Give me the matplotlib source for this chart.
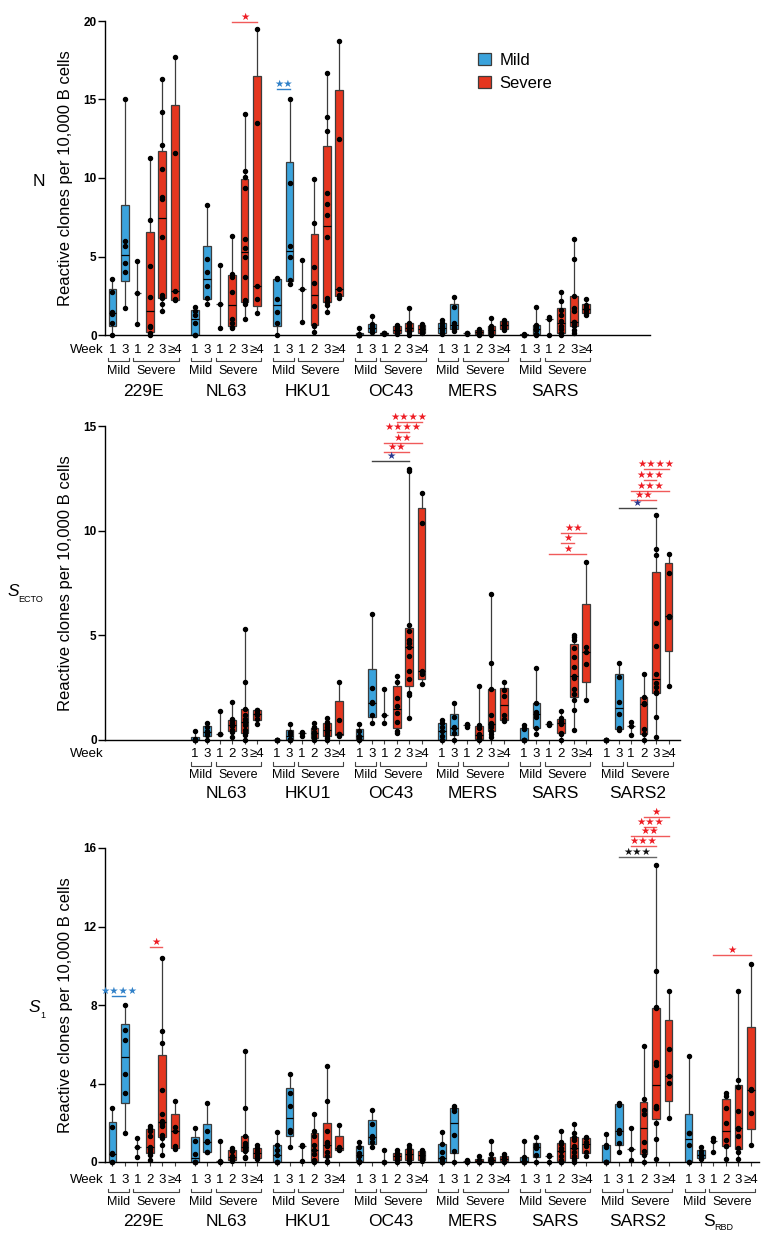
import numpy as np
import matplotlib
matplotlib.use("Agg")
import matplotlib.pyplot as plt
from matplotlib.patches import Patch

plt.rcParams["font.family"] = ["Liberation Sans", "DejaVu Sans"]

BLUE = "#3ba3dc"
RED = "#e5361f"
EDGE = "#3c3c3c"
STAR_COLORS = {"sev": "#ee1c24", "mild": "#2f80c8", "cross": "#2b3990", "black": "#111111"}
LINE_COLORS = {"sev": "#f05a5a", "mild": "#2f80c8", "cross": "#444444", "black": "#666666"}

WEEKS = ["1", "3", "1", "2", "3", "≥4"]
GROUP_COLORS = [BLUE, BLUE, RED, RED, RED, RED]
STRIDE = 6.61
W, H = 767, 1238

# ---- N panel (reactive clones per 10,000 B cells) ----
n_names = ["229E", "NL63", "HKU1", "OC43", "MERS", "SARS"]
n_229e = [[0, 0.75, 1.35, 1.45, 2.75, 3.55], [1.75, 4.03, 4.56, 5.67, 6.0, 15.0], [0.7, 2.65, 4.7],
          [0, 0.1, 0.5, 0.6, 2.45, 4.4, 7.3, 11.3],
          [1.5, 1.95, 2.35, 2.45, 2.55, 6.25, 8.65, 8.8, 10.6, 12.1, 14.2, 16.3], [2.2, 2.3, 2.8, 11.6, 17.7]]
n_nl63 = [[0, 0, 0.75, 1.25, 1.55, 1.8], [1.96, 2.38, 3.13, 4.02, 4.83, 8.3], [0.43, 1.96, 4.47],
          [0.43, 0.53, 0.74, 1.0, 2.77, 3.72, 3.89, 6.28],
          [1.02, 2.0, 2.08, 2.23, 3.67, 4.99, 5.54, 6.09, 9.38, 10.08, 10.45, 14.1], [1.4, 2.3, 3.15, 13.5, 19.5]]
n_hku1 = [[0, 0.74, 1.49, 2.3, 3.55, 3.6], [3.23, 3.5, 4.99, 5.67, 9.68, 15.0], [0.85, 2.91, 4.79],
          [0.17, 0.6, 0.65, 1.85, 3.3, 4.36, 7.13, 9.94],
          [1.47, 1.91, 2.1, 2.17, 2.36, 6.24, 7.64, 8.33, 9.04, 13.0, 13.9, 16.7], [2.36, 2.55, 2.95, 12.5, 18.73]]
n_oc43 = [[0, 0, 0, 0, 0.05, 0.42], [0.18, 0.22, 0.38, 0.45, 0.6, 0.68, 1.23], [0.05, 0.1, 0.1, 0.15],
          [0.05, 0.1, 0.25, 0.35, 0.45, 0.55, 0.65], [0, 0.22, 0.3, 0.42, 0.48, 0.7, 0.78, 1.74],
          [0.1, 0.2, 0.4, 0.6, 0.7]]
n_mers = [[0.05, 0.15, 0.3, 0.45, 0.55, 0.75, 0.95], [0.25, 0.42, 0.5, 0.75, 1.8, 2.4], [0.05, 0.1, 0.15],
          [0, 0.1, 0.15, 0.25, 0.3, 0.4], [0, 0.05, 0.2, 0.3, 0.45, 0.55, 1.06], [0.3, 0.45, 0.55, 0.7, 0.85, 0.95]]
n_sars = [[0, 0, 0, 0.05], [0, 0.05, 0.3, 0.4, 0.55, 0.65, 1.8], [0, 1.05, 1.17],
          [0, 0.1, 0.15, 0.4, 0.6, 0.9, 1.3, 1.6, 2.19, 2.76],
          [0.15, 0.3, 0.55, 0.7, 0.8, 0.85, 1.5, 1.75, 2.5, 4.84, 6.09], [1.3, 1.4, 1.6, 1.75, 1.9, 2.27]]
n_sig = [(1, 3, 5, 19.94, "*", "sev"), (2, 0, 1, 15.67, "**", "mild")]

# ---- S ecto panel ----
e_names = ["NL63", "HKU1", "OC43", "MERS", "SARS", "SARS2"]
e_nl63 = [[0, 0, 0, 0, 0.05, 0.45], [0, 0.25, 0.35, 0.45, 0.6, 0.8], [0.27, 0.3, 1.4],
          [0.16, 0.4, 0.5, 0.65, 0.7, 0.8, 0.95, 1.0, 1.83],
          [0, 0.25, 0.32, 0.5, 0.7, 0.85, 1.0, 1.2, 1.48, 2.79, 5.3], [0.76, 1.0, 1.2, 1.3, 1.43, 1.45]]
e_hku1 = [[0, 0, 0, 0, 0.02], [0, 0, 0.05, 0.3, 0.38, 0.76], [0.2, 0.35, 0.4],
          [0, 0.05, 0.15, 0.3, 0.4, 0.55, 0.6, 0.8], [0, 0.1, 0.25, 0.4, 0.5, 0.6, 0.75, 0.85, 1.03],
          [0.19, 0.27, 0.3, 0.96, 2.79]]
e_oc43 = [[0, 0.05, 0.15, 0.2, 0.45, 0.76], [0.8, 1.2, 1.78, 1.8, 2.5, 6.0], [0.8, 1.19, 2.44],
          [0.35, 0.45, 0.88, 1.3, 1.62, 2.02, 2.79, 3.06],
          [1.04, 2.15, 2.23, 2.9, 3.31, 4.0, 4.46, 4.65, 4.78, 5.2, 5.49, 12.85, 12.95],
          [2.67, 3.15, 3.3, 10.35, 11.8]]
e_mers = [[0, 0, 0.2, 0.45, 0.6, 0.8, 0.96], [0, 0.35, 0.55, 0.6, 1.1, 1.75], [0.6, 0.7, 0.75],
          [0, 0.05, 0.1, 0.2, 0.3, 0.55, 0.7, 2.58],
          [0.15, 0.3, 0.45, 0.6, 0.7, 0.75, 0.8, 1.2, 2.45, 3.66, 6.96], [0.9, 1.0, 1.2, 2.1, 2.4, 2.79]]
e_sars = [[0, 0, 0, 0, 0.52, 0.55, 0.72], [0.27, 0.55, 1.1, 1.25, 1.35, 1.75, 3.42], [0.72, 0.78, 0.8],
          [0, 0.3, 0.35, 0.75, 0.85, 0.9, 1.05, 1.4],
          [0.48, 1.43, 1.91, 2.2, 2.42, 2.95, 3.05, 3.5, 3.98, 4.38, 4.78, 4.9, 5.02],
          [1.91, 3.63, 4.19, 4.46, 8.52]]
e_sars2 = [[0, 0, 0, 0, 0.02], [0.5, 0.55, 1.24, 1.83, 2.99, 3.66], [0.25, 0.67, 0.88],
           [0, 0.29, 0.51, 1.7, 1.75, 2.07, 3.14],
           [0.16, 1.11, 2.23, 2.31, 2.55, 2.71, 3.14, 4.51, 5.58, 8.84, 9.13, 10.77],
           [2.6, 5.86, 5.94, 8.0, 8.88]]
e_sig = [(3, 1, 4, 13.34, "*", "cross"), (3, 2, 4, 13.74, "**", "sev"), (3, 2, 5, 14.2, "**", "sev"),
         (3, 3, 4, 14.7, "****", "sev"), (3, 3, 5, 15.2, "****", "sev"),
         (5, 2, 5, 8.9, "*", "sev"), (5, 3, 4, 9.4, "*", "sev"), (5, 3, 5, 9.9, "**", "sev"),
         (6, 1, 4, 11.07, "*", "cross"), (6, 2, 4, 11.47, "**", "sev"), (6, 2, 5, 11.91, "***", "sev"),
         (6, 3, 4, 12.42, "***", "sev"), (6, 3, 5, 12.93, "****", "sev")]

# ---- S1 panel ----
s_names = ["229E", "NL63", "HKU1", "OC43", "MERS", "SARS", "SARS2", "RBD"]
s_229e = [[0, 0, 0.4, 0.46, 1.77, 2.75], [1.48, 3.51, 4.5, 6.23, 6.71, 8.01], [0.24, 0.76, 1.22],
          [0.08, 0.37, 0.5, 0.65, 0.75, 1.31, 1.6, 1.75, 1.85],
          [0.34, 0.88, 1.2, 1.4, 1.85, 1.99, 2.07, 2.44, 3.65, 6.06, 6.66, 10.42], [0.65, 0.8, 1.56, 1.77, 3.12]]
s_nl63 = [[0, 0, 0, 0.41, 1.09, 1.73], [0.5, 0.5, 1.0, 1.05, 1.6, 3.0], [0, 0.05, 1.05],
          [0.05, 0.1, 0.15, 0.2, 0.3, 0.55, 0.6, 0.7],
          [0.2, 0.25, 0.55, 0.6, 0.7, 0.75, 0.85, 0.95, 1.34, 2.75, 5.64], [0.15, 0.2, 0.3, 0.45, 0.55, 0.7, 0.88]]
s_hku1 = [[0, 0, 0, 0.35, 0.63, 0.88, 1.51], [0.75, 1.55, 1.65, 2.87, 3.5, 4.5], [0.05, 0.8, 0.85],
          [0, 0.05, 0.1, 0.4, 0.6, 0.85, 1.31, 1.6, 2.44], [0, 0.05, 0.3, 0.5, 0.8, 0.95, 1.0, 1.6, 3.09, 4.87],
          [0.6, 0.65, 0.7, 0.75, 1.9]]
s_oc43 = [[0, 0.05, 0.3, 0.46, 0.75, 1.0], [0.75, 1.0, 1.2, 1.35, 1.95, 2.67], [0, 0, 0.63],
          [0, 0.1, 0.15, 0.3, 0.4, 0.45, 0.6], [0, 0.1, 0.2, 0.35, 0.5, 0.65, 0.7, 0.85],
          [0.05, 0.15, 0.3, 0.45, 0.55, 0.6]]
s_mers = [[0, 0, 0.15, 0.2, 0.5, 0.9, 1.51], [0, 0.58, 1.4, 2.6, 2.75, 2.85], [0.02, 0.05, 0.08],
          [0, 0, 0.05, 0.1, 0.12, 0.3], [0, 0, 0.02, 0.05, 0.08, 0.12, 0.15, 0.4, 1.05],
          [0, 0.05, 0.1, 0.2, 0.25, 0.4]]
s_sars = [[0, 0, 0, 0.05, 0.2, 0.25, 1.09], [0, 0.37, 0.7, 0.8, 0.85, 1.26], [0, 0.3, 0.35],
          [0, 0, 0.1, 0.3, 0.55, 0.7, 0.9, 1.0, 1.56], [0, 0.1, 0.2, 0.3, 0.5, 0.7, 0.8, 1.1, 1.25, 1.5, 1.94],
          [0.3, 0.5, 0.8, 1.0, 1.2, 1.25]]
s_sars2 = [[0, 0, 0, 0, 0.75, 0.88, 1.43], [0.49, 0.97, 1.5, 1.61, 2.92, 3.0], [0.12, 0.66, 1.73],
           [0, 0.34, 0.57, 1.02, 2.44, 2.67, 3.2, 5.89],
           [0.17, 1.17, 1.99, 2.75, 2.77, 2.87, 4.96, 5.08, 7.84, 7.88, 9.71, 15.11],
           [2.24, 4.02, 4.36, 5.76, 8.69]]
s_rbd = [[0, 0, 0.88, 1.48, 1.5, 5.38], [0.15, 0.2, 0.3, 0.4, 0.55, 0.76], [0.49, 1.05, 1.22],
         [0.15, 0.8, 0.82, 1.14, 1.98, 2.75, 3.35, 3.51],
         [0.15, 0.51, 0.71, 1.34, 1.7, 1.73, 2.58, 3.82, 4.19, 8.69], [0.85, 2.5, 3.65, 3.7, 10.08]]
s_sig = [(0, 0, 1, 8.44, "****", "mild"), (0, 3, 4, 10.95, "*", "sev"),
         (6, 1, 4, 15.52, "***", "black"), (6, 2, 4, 16.08, "***", "sev"), (6, 2, 5, 16.59, "**", "sev"),
         (6, 3, 4, 17.05, "***", "sev"), (6, 3, 5, 17.57, "*", "sev"), (7, 2, 5, 10.56, "*", "sev")]


def make_axes(fig, left, right, top, bottom):
    return fig.add_axes([left / W, 1 - bottom / H, (right - left) / W, (bottom - top) / H])


def pos(slot, g):
    return slot * STRIDE + g


def under(ax, x, dy, s, **kw):
    ax.annotate(s, xy=(x, 0), xycoords=("data", "axes fraction"), xytext=(0, -dy),
                textcoords="offset pixels", ha=kw.pop("ha", "center"), va="center",
                annotation_clip=False, **kw)


def draw_panel(ax, slots, names, groups, sigs, ymax, yticks, xmax, offs, ax_h, tick_len):
    d_num, d_br, d_lab, d_name = offs
    for slot, name, virus in zip(slots, names, groups):
        for g, vals in enumerate(virus):
            x = pos(slot, g)
            v = np.asarray(vals, float)
            if len(v) <= 3:
                ax.vlines(x, v.min(), v.max(), color=EDGE, lw=0.9, zorder=2)
                ax.hlines(np.median(v), x - 0.3, x + 0.3, color=EDGE, lw=0.9, zorder=2)
            else:
                q1, med, q3 = np.percentile(v, [25, 50, 75], method="weibull")
                st = dict(med=med, q1=q1, q3=q3, whislo=v.min(), whishi=v.max(), fliers=[])
                ax.bxp([st], positions=[x], widths=0.62, patch_artist=True, showfliers=False,
                       showcaps=False,
                       boxprops=dict(facecolor=GROUP_COLORS[g], edgecolor=EDGE, lw=0.9),
                       whiskerprops=dict(color=EDGE, lw=0.9),
                       medianprops=dict(color="black", lw=0.9), manage_ticks=False)
            ax.plot(np.full(len(v), x), v, "o", ms=2.9, color="black", zorder=5, clip_on=False)
            under(ax, x, d_num, WEEKS[g], fontsize=9.5)
        # brackets for Mild / Severe
        for a, b, lab in [(0, 1, "Mild"), (2, 5, "Severe")]:
            x0, x1 = pos(slot, a) - 0.32, pos(slot, b) + 0.32
            yb, yt = -d_br / ax_h, -(d_br - 3.5) / ax_h
            ax.plot([x0, x0, x1, x1], [yt, yb, yb, yt], color="#444444", lw=0.8,
                    transform=ax.get_xaxis_transform(), clip_on=False)
            under(ax, (pos(slot, a) + pos(slot, b)) / 2, d_lab, lab, fontsize=9)
        xc = (pos(slot, 0) + pos(slot, 5)) / 2
        if name == "RBD":
            ax.annotate("S", xy=(xc, 0), xycoords=("data", "axes fraction"), xytext=(-5, -d_name),
                        textcoords="offset pixels", ha="right", va="center", fontsize=12.5,
                        annotation_clip=False)
            ax.annotate("RBD", xy=(xc, 0), xycoords=("data", "axes fraction"), xytext=(-5, -d_name - 7),
                        textcoords="offset pixels", ha="left", va="center", fontsize=6.5,
                        annotation_clip=False)
        else:
            under(ax, xc, d_name, name, fontsize=12.5)

    for slot, a, b, y, stars, kind in sigs:
        x0, x1 = pos(slot, a), pos(slot, b)
        ax.plot([x0, x1], [y, y], color=LINE_COLORS[kind], lw=1.0, clip_on=False)
        ax.text((x0 + x1) / 2, y, "★" * len(stars), ha="center", va="bottom",
                color=STAR_COLORS[kind], fontsize=7.5, family="DejaVu Sans", clip_on=False)

    ax.annotate("Week", xy=(0, 0), xycoords="axes fraction", xytext=(-1, -d_num),
                textcoords="offset pixels", ha="right", va="center", fontsize=9.5, annotation_clip=False)

    ax.set_xlim(-0.6, xmax)
    ax.set_ylim(0, ymax)
    ax.set_yticks(yticks)
    ax.set_yticklabels([str(t) for t in yticks], fontweight="bold", fontsize=8.5)
    all_x = [pos(s, g) for s in slots for g in range(6)]
    ax.set_xticks(all_x)
    ax.set_xticklabels([])
    ax.tick_params(axis="x", length=tick_len, width=0.8, color="#444444")
    ax.tick_params(axis="y", length=5, width=1.0, pad=1)
    for s in ["top", "right"]:
        ax.spines[s].set_visible(False)
    ax.spines["left"].set_linewidth(1.0)
    ax.spines["bottom"].set_linewidth(1.0)


fig = plt.figure(figsize=(W / 100, H / 100), dpi=100)

ax1 = make_axes(fig, 105, 650, 21, 335)
draw_panel(ax1, range(6), n_names, [n_229e, n_nl63, n_hku1, n_oc43, n_mers, n_sars], n_sig,
           20, [0, 5, 10, 15, 20], (650 - 112.5) / 12.45, (15, 26, 36, 57), 314, 0)

ax2 = make_axes(fig, 105, 680, 426, 740)
draw_panel(ax2, range(1, 7), e_names, [e_nl63, e_hku1, e_oc43, e_mers, e_sars, e_sars2], e_sig,
           15, [0, 5, 10, 15], (680 - 112.5) / 12.45, (14, 25.5, 35, 53), 314, 3)

ax3 = make_axes(fig, 105, 759, 848, 1162)
draw_panel(ax3, range(8), s_names, [s_229e, s_nl63, s_hku1, s_oc43, s_mers, s_sars, s_sars2, s_rbd],
           s_sig, 16, [0, 4, 8, 12, 16], (759 - 112.5) / 12.45, (18, 30, 40, 59), 314, 3)

ylab = "Reactive clones per 10,000 B cells"
for yc in [178, 583, 1005]:
    fig.text(66 / W, 1 - yc / H, ylab, rotation=90, ha="center", va="center", fontsize=12)

fig.text(39 / W, 1 - 181 / H, "N", ha="center", va="center", fontsize=12.5)
fig.text(13 / W, 1 - 591 / H, "S", ha="center", va="center", fontsize=12.5, style="italic")
fig.text(18 / W, 1 - 599 / H, "ECTO", ha="left", va="center", fontsize=6.5)
fig.text(34 / W, 1 - 1007 / H, "S", ha="center", va="center", fontsize=12.5, style="italic")
fig.text(40 / W, 1 - 1015 / H, "1", ha="left", va="center", fontsize=6.5)

handles = [Patch(facecolor=BLUE, edgecolor=EDGE, lw=0.9), Patch(facecolor=RED, edgecolor=EDGE, lw=0.9)]
fig.legend(handles, ["Mild", "Severe"], loc="upper left", bbox_to_anchor=(478 / W, 1 - 53 / H),
           frameon=False, fontsize=12, handlelength=0.75, handleheight=0.75, handletextpad=0.55,
           labelspacing=0.45, borderaxespad=0, borderpad=0)

fig.savefig("out.png", dpi=100)
